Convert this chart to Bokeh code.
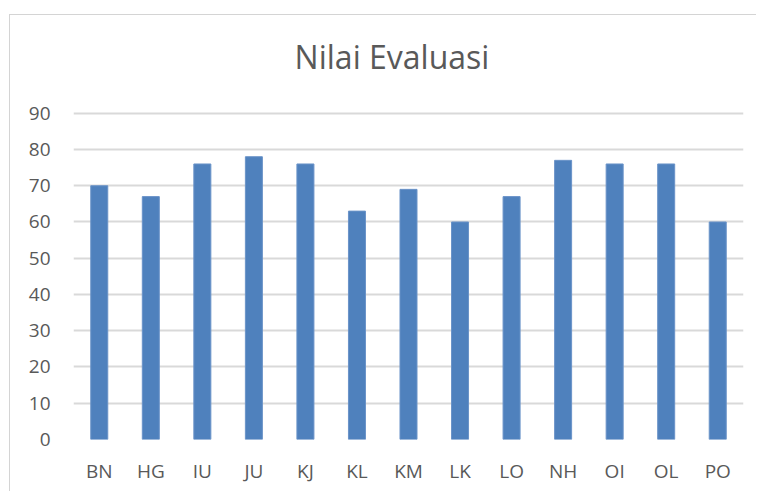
from bokeh.plotting import figure
from bokeh.models import FixedTicker, Range1d
from bokeh.core.properties import value
from bokeh.embed import file_html
from bokeh.resources import INLINE

categories = ["BN", "HG", "IU", "JU", "KJ", "KL", "KM", "LK", "LO", "NH", "OI", "OL", "PO"]
values = [70, 67, 76, 78, 76, 63, 69, 60, 67, 77, 76, 76, 60]
y_ticks = [0, 10, 20, 30, 40, 50, 60, 70, 80, 90]
title_text = "Nilai Evaluasi"

TEXT = "#595959"
GRID = "#d9d9d9"
FONT = "Open Sans"

# frame extends above the 90 gridline so the chart title can sit inside it
p = figure(x_range=categories, y_range=Range1d(0, 114.2), width=747, height=477,
           output_backend="svg", toolbar_location=None,
           min_border_left=63, min_border_right=14, min_border_top=10, min_border_bottom=53)
p.styles = {"border-left": "1px solid #d4d4d4", "border-top": "1px solid #d4d4d4",
            "margin-left": "9px", "margin-top": "14px"}
p.title.text = ""
p.title.visible = False

p.vbar(x=categories, top=values, width=0.33, fill_color="#4f81bd", line_color="#6a93c8", line_width=1)

p.text(x=[categories[len(categories) // 2]], y=[105.7], text=[title_text],
       text_align="center", text_baseline="middle", x_offset=-16.5,
       text_font=value(FONT), text_font_size="32px", text_color=TEXT)

p.outline_line_color = None
p.background_fill_color = "white"
p.border_fill_color = "white"

p.xgrid.grid_line_color = None
p.ygrid.grid_line_color = GRID
p.ygrid.grid_line_width = 2
p.ygrid.ticker = FixedTicker(ticks=y_ticks)
p.yaxis.ticker = FixedTicker(ticks=y_ticks)

for ax in (p.xaxis[0], p.yaxis[0]):
    ax.axis_line_color = None
    ax.major_tick_line_color = None
    ax.minor_tick_line_color = None
    ax.major_label_text_color = TEXT
    ax.major_label_text_font = FONT
    ax.major_label_text_font_size = "19px"
p.yaxis.major_label_standoff = 17
p.xaxis.major_label_standoff = 12
p.x_range.range_padding = 0

open("out.html", "w").write(file_html(p, INLINE))
